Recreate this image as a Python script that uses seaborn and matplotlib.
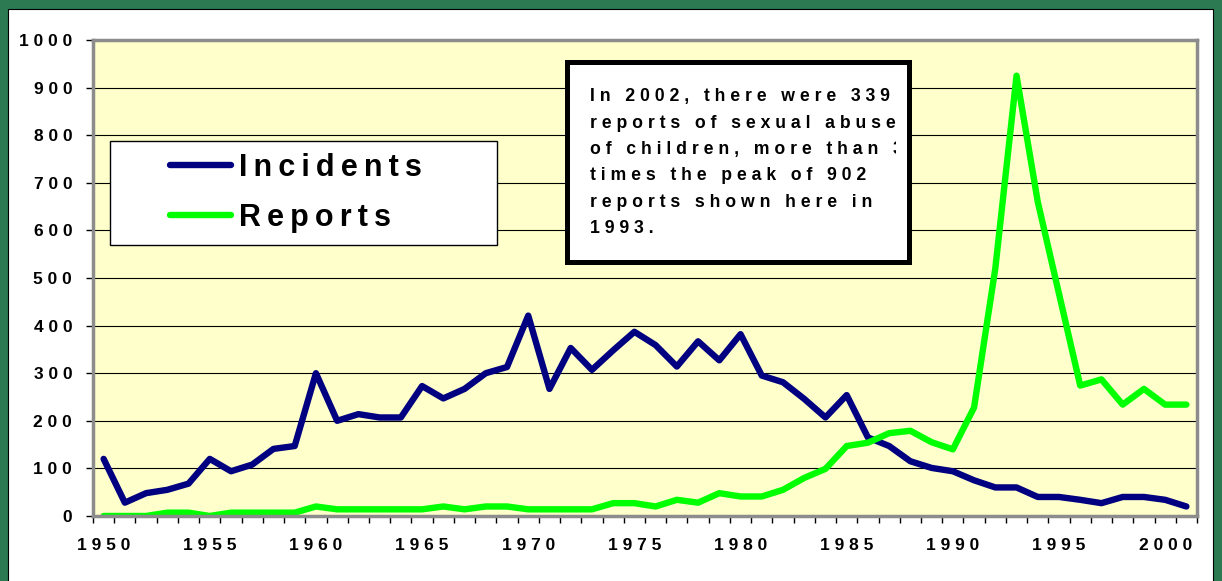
import numpy as np
import pandas as pd
import matplotlib
matplotlib.use("Agg")
import matplotlib.pyplot as plt
from matplotlib.patches import Rectangle
from matplotlib.lines import Line2D
from matplotlib.transforms import Bbox, TransformedBbox
import seaborn as sns

# ---------------- data ----------------
years = list(range(1950, 2002))
incidents = [120, 28, 48, 55, 68, 120, 94, 108, 141, 147,
             300, 200, 214, 207, 207, 273, 247, 267, 300, 313,
             421, 267, 353, 307, 348, 387, 359, 314, 367, 327,
             382, 295, 281, 246, 207, 254, 165, 147, 115, 101,
             94, 75, 60, 60, 40, 40, 34, 27, 40, 40,
             34, 20]
reports = [0, 0, 0, 7, 7, 0, 7, 7, 7, 7,
           20, 14, 14, 14, 14, 14, 20, 14, 20, 20,
           14, 14, 14, 14, 27, 27, 20, 34, 28, 48,
           41, 41, 55, 80, 99, 147, 154, 174, 179, 155,
           140, 228, 520, 925, 660, 467, 274, 287, 234, 267,
           234, 234]
series_names = ["Incidents", "Reports"]
series_colors = ["#000080", "#00FF00"]
y_ticks = list(range(0, 1001, 100))
x_label_years = list(range(1950, 2001, 5))
note_lines = ["In 2002, there were 339",
              "reports of sexual abuse",
              "of children, more than 3",
              "times the peak of 902",
              "reports shown here in",
              "1993."]

FAM = ["Liberation Sans", "DejaVu Sans"]
plt.rcParams["font.family"] = FAM
plt.rcParams["font.weight"] = "bold"

W, H = 1222, 581
fig = plt.figure(figsize=(W / 100, H / 100), dpi=100)
fig.patch.set_facecolor("#2B7A52")


def fx(px):
    return px / W


def fy(py):
    return 1 - py / H


def spaced(s, sep):
    return sep.join(s)


# white slide panel
fig.add_artist(Rectangle((fx(8), -0.01), fx(1213) - fx(8), fy(9) + 0.01,
                         transform=fig.transFigure, facecolor="white",
                         edgecolor="black", lw=0.8, zorder=-1))

ax = fig.add_axes([fx(93), fy(516), fx(1197) - fx(93), (516 - 40) / H])
ax.set_facecolor("#FFFFCC")

df = pd.DataFrame({
    "Year": years * 2,
    "Value": incidents + reports,
    "Series": [series_names[0]] * len(years) + [series_names[1]] * len(years),
})
sns.lineplot(data=df, x="Year", y="Value", hue="Series",
             palette=dict(zip(series_names, series_colors)),
             linewidth=4.6, ax=ax, legend=False,
             solid_capstyle="round", solid_joinstyle="round", zorder=2)

ax.set_xlim(years[0] - 0.5, years[-1] + 0.5)
ax.set_ylim(0, 1000)
ax.set_xlabel("")
ax.set_ylabel("")

# x ticks: labels at points, tick marks between categories
ax.set_xticks(x_label_years)
ax.set_xticklabels([spaced(str(y), " ") for y in x_label_years],
                   fontsize=12.5, fontweight="bold", family=FAM)
ax.set_xticks(np.arange(years[0] - 0.5, years[-1] + 1.0, 1.0), minor=True)
ax.tick_params(axis="x", which="major", length=0, pad=16)
ax.tick_params(axis="x", which="minor", length=5, width=1, color="black",
               direction="out")

ax.set_yticks(y_ticks)
ax.set_yticklabels([spaced(str(v), " ") for v in y_ticks],
                   fontsize=12.5, fontweight="bold", family=FAM)
ax.tick_params(axis="y", length=5, width=1, color="black", pad=10,
               direction="out")

ax.yaxis.grid(True, color="black", lw=0.8)
ax.xaxis.grid(False)
ax.set_axisbelow(True)
for side in ["left", "right", "top", "bottom"]:
    ax.spines[side].set_color("#8C8C8C")
    ax.spines[side].set_linewidth(2.5)

# legend
ax.add_artist(Rectangle((fx(110), fy(245)), fx(497) - fx(110), (245 - 141) / H,
                        transform=fig.transFigure, facecolor="white",
                        edgecolor="black", lw=1, zorder=3, clip_on=False))
handles = [Line2D([], [], color=c, lw=4.6, solid_capstyle="round")
           for c in series_colors]
leg = ax.legend(handles, [spaced(n, "\u2009") for n in series_names],
                loc="upper left", bbox_to_anchor=(fx(170), fy(153)),
                bbox_transform=fig.transFigure, frameon=False, borderpad=0,
                borderaxespad=0, handlelength=2.0, handletextpad=0.25,
                labelspacing=0.65,
                prop=dict(family=FAM, weight="bold", size=22))
leg.set_zorder(5)

# annotation box
ax.add_artist(Rectangle((fx(566.5), fy(261.5)), fx(908.5) - fx(566.5),
                        (261.5 - 61.5) / H, transform=fig.transFigure,
                        facecolor="white", edgecolor="black", lw=3.6,
                        zorder=3, clip_on=False))
clip_bb = TransformedBbox(Bbox.from_extents(fx(566), fy(262), fx(896), fy(61)),
                          fig.transFigure)
for i, line in enumerate(note_lines):
    t = fig.text(fx(590), fy(101.5 + i * 26.3), spaced(line, " "),
                 ha="left", va="baseline", fontsize=12.7,
                 fontweight="bold", family=FAM, color="black",
                 clip_on=True, zorder=6)
    t.set_clip_box(clip_bb)

fig.savefig("out.png", dpi=100, facecolor=fig.get_facecolor())
